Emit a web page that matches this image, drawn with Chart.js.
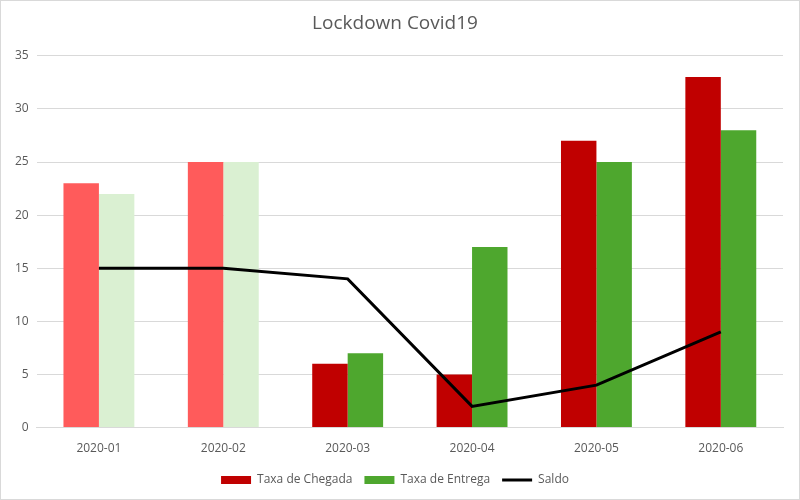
<!DOCTYPE html>
<html>
<head>
<meta charset="utf-8">
<script src="https://cdn.jsdelivr.net/npm/chart.js@4"></script>
<style>
  html, body { margin: 0; padding: 0; background: #fff; }
  #wrap { width: 798px; height: 498px; border: 1px solid #d9d9d9; }
</style>
</head>
<body>
<div id="wrap"><canvas id="lockdownChart"></canvas></div>
<script>
const months = ['2020-01', '2020-02', '2020-03', '2020-04', '2020-05', '2020-06'];
const taxaChegada = [23, 25, 6, 5, 27, 33];
const taxaEntrega = [22, 25, 7, 17, 25, 28];
const saldo = [15, 15, 14, 2, 4, 9];

// first two months are drawn in lighter shades
const chegadaColors = ['#FF5B5B', '#FF5B5B', '#C00000', '#C00000', '#C00000', '#C00000'];
const entregaColors = ['#DAF0D2', '#DAF0D2', '#4EA72E', '#4EA72E', '#4EA72E', '#4EA72E'];
const legendColors = ['#C00000', '#4EA72E', '#000000'];

const ctx = document.getElementById('lockdownChart').getContext('2d');

new Chart(ctx, {
    type: 'bar',
    data: {
        labels: months,
        datasets: [
            {
                label: 'Taxa de Chegada',
                data: taxaChegada,
                backgroundColor: chegadaColors,
                pointStyle: 'rect',
                order: 1
            },
            {
                label: 'Taxa de Entrega',
                data: taxaEntrega,
                backgroundColor: entregaColors,
                pointStyle: 'rect',
                order: 1
            },
            {
                type: 'line',
                label: 'Saldo',
                data: saldo,
                borderColor: '#000000',
                backgroundColor: '#000000',
                borderWidth: 3,
                pointRadius: 0,
                pointStyle: 'line',
                tension: 0,
                order: 0
            }
        ]
    },
    options: {
        responsive: true,
        maintainAspectRatio: false,
        animation: false,
        datasets: {
            bar: {
                categoryPercentage: 0.57,
                barPercentage: 1
            }
        },
        layout: {
            padding: { left: 6, right: 16, top: 8, bottom: 3 }
        },
        plugins: {
            title: {
                display: true,
                text: 'Lockdown Covid19',
                color: '#595959',
                font: { family: 'Open Sans', size: 19, weight: 'normal' },
                padding: { top: 3, bottom: 21 }
            },
            legend: {
                position: 'bottom',
                labels: {
                    usePointStyle: true,
                    pointStyleWidth: 30,
                    boxHeight: 8,
                    color: '#595959',
                    font: { family: 'Open Sans', size: 12 },
                    padding: 12,
                    sort: (a, b) => a.datasetIndex - b.datasetIndex,
                    generateLabels(chart) {
                        const items = Chart.defaults.plugins.legend.labels.generateLabels(chart);
                        items.forEach(item => {
                            const c = legendColors[item.datasetIndex];
                            item.fillStyle = c;
                            item.strokeStyle = c;
                        });
                        return items;
                    }
                }
            },
            tooltip: { enabled: false }
        },
        scales: {
            x: {
                grid: { display: false },
                border: { color: '#d9d9d9' },
                ticks: {
                    color: '#595959',
                    font: { family: 'Open Sans', size: 12 },
                    padding: 6
                }
            },
            y: {
                min: 0,
                max: 35,
                ticks: {
                    stepSize: 5,
                    color: '#595959',
                    font: { family: 'Open Sans', size: 12 },
                    padding: 8
                },
                grid: { color: '#d9d9d9', drawTicks: false },
                border: { display: false }
            }
        }
    }
});
</script>
</body>
</html>
